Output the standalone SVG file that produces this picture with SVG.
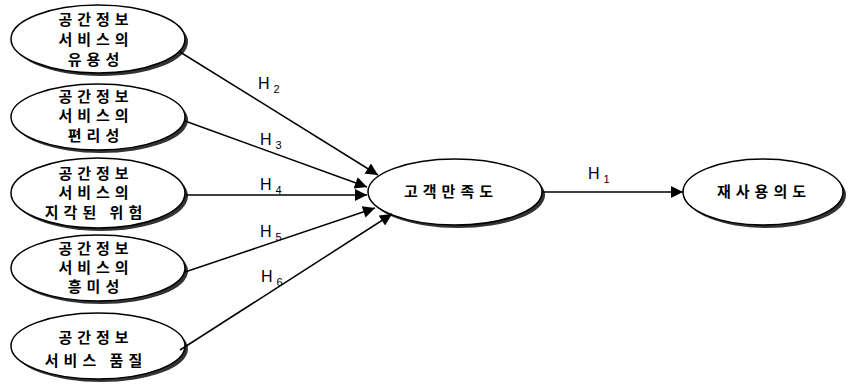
<svg xmlns="http://www.w3.org/2000/svg" width="848" height="384" viewBox="0 0 848 384">
<style>
.sh{fill:#333;stroke:none}
.el{fill:#fff;stroke:#000;stroke-width:1.5}
.t{font-family:"Noto Sans CJK KR","Noto Sans",sans-serif;font-size:15px;font-weight:bold;letter-spacing:5px;text-anchor:middle;fill:#000}
.h{font-family:"Liberation Sans",Arial,sans-serif;font-size:16px;fill:#000}
.s{font-size:11px}
.c line{stroke:#000;stroke-width:1.5;marker-end:url(#ar)}
</style>
<defs>
<marker id="ar" viewBox="0 0 10 10" refX="10" refY="5" markerWidth="16" markerHeight="12" markerUnits="userSpaceOnUse" orient="auto">
<path d="M0,0 L10,5 L0,10 z" fill="#000"/>
</marker>
</defs>
<rect width="848" height="384" fill="#fff"/>
<g id="n1">
<ellipse class="sh" cx="101" cy="42" rx="87" ry="34"/>
<ellipse class="el" cx="98" cy="39" rx="87" ry="34"/>
<text class="t" x="96" y="25">공간정보</text>
<text class="t" x="96" y="45">서비스의</text>
<text class="t" x="96" y="65">유용성</text>
</g>
<g id="n2">
<ellipse class="sh" cx="101" cy="120" rx="87" ry="33"/>
<ellipse class="el" cx="98" cy="117" rx="87" ry="33"/>
<text class="t" x="96" y="102">공간정보</text>
<text class="t" x="96" y="121">서비스의</text>
<text class="t" x="96" y="141">편리성</text>
</g>
<g id="n3">
<ellipse class="sh" cx="101" cy="196" rx="87" ry="35"/>
<ellipse class="el" cx="98" cy="193" rx="87" ry="35"/>
<text class="t" x="96" y="179">공간정보</text>
<text class="t" x="96" y="198">서비스의</text>
<text class="t" x="96" y="218">지각된 위험</text>
</g>
<g id="n4">
<ellipse class="sh" cx="101" cy="271" rx="87" ry="33"/>
<ellipse class="el" cx="98" cy="268" rx="87" ry="33"/>
<text class="t" x="96" y="254">공간정보</text>
<text class="t" x="96" y="273">서비스의</text>
<text class="t" x="96" y="292">흥미성</text>
</g>
<g id="n5">
<ellipse class="sh" cx="101" cy="349" rx="87" ry="33"/>
<ellipse class="el" cx="98" cy="346" rx="87" ry="33"/>
<text class="t" x="96" y="343">공간정보</text>
<text class="t" x="96" y="366">서비스 품질</text>
</g>
<g id="n6">
<ellipse class="sh" cx="458" cy="195" rx="87" ry="33"/>
<ellipse class="el" cx="455" cy="192" rx="87" ry="33"/>
<text class="t" x="451" y="197">고객만족도</text>
</g>
<g id="n7">
<ellipse class="sh" cx="766" cy="195" rx="80" ry="33"/>
<ellipse class="el" cx="763" cy="192" rx="80" ry="33"/>
<text class="t" x="764" y="197">재사용의도</text>
</g>
<g class="c">
<line x1="180" y1="52" x2="378" y2="175"/>
<line x1="185" y1="121" x2="367" y2="187"/>
<line x1="186" y1="195" x2="367" y2="195"/>
<line x1="185" y1="272" x2="375" y2="208"/>
<line x1="180" y1="350" x2="392" y2="214"/>
<line x1="542" y1="192" x2="683" y2="192"/>
</g>
<g id="labels">
<text class="h" x="258" y="89">H<tspan class="s" dx="4" dy="4">2</tspan></text>
<text class="h" x="260" y="145">H<tspan class="s" dx="4" dy="4">3</tspan></text>
<text class="h" x="260" y="190">H<tspan class="s" dx="4" dy="4">4</tspan></text>
<text class="h" x="260" y="237">H<tspan class="s" dx="4" dy="4">5</tspan></text>
<text class="h" x="261" y="282">H<tspan class="s" dx="4" dy="4">6</tspan></text>
<text class="h" x="588" y="179">H<tspan class="s" dx="4" dy="4">1</tspan></text>
</g>
</svg>
